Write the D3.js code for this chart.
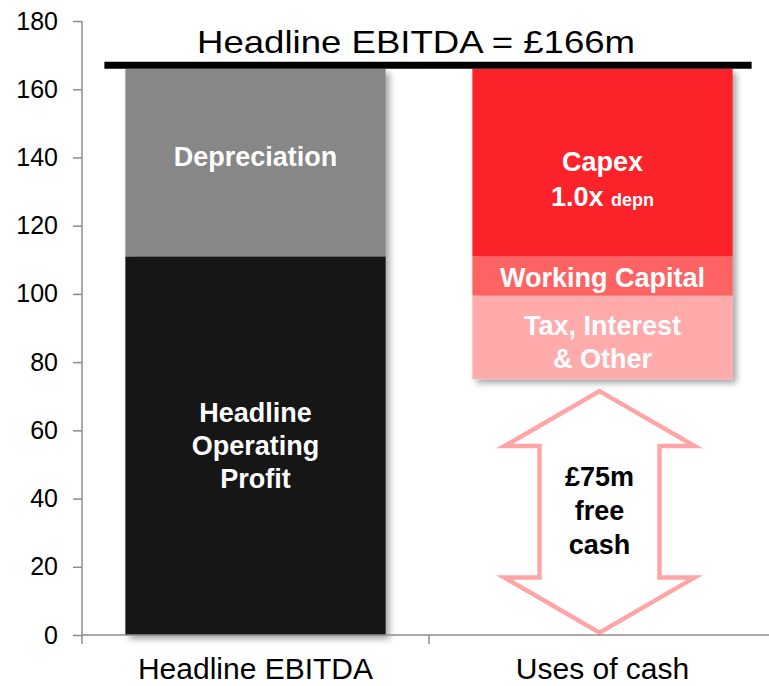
<html>
<head>
<script src="https://d3js.org/d3.v7.min.js"></script>
<style>
  body { margin: 0; background: #fff; }
  svg { font-family: Arial, "Liberation Sans", sans-serif; }
  .axis path, .axis line { stroke: #8c8c8c; stroke-width: 1.5; }
  .axis text { font-size: 25px; fill: #000; }
  .seg-label { font-weight: bold; font-size: 27px; fill: #fff; }
</style>
</head>
<body>
<div id="chart"></div>
<script>
// data
var categories = ["Headline EBITDA", "Uses of cash"];
var ebitdaParts = ["Headline Operating Profit", "Depreciation"];
var ebitdaValues = [111, 55];
var usesParts = ["Free cash", "Tax, Interest & Other", "Working Capital", "Capex"];
var usesValues = [75, 24.5, 11.5, 55];
var yTicks = [0, 20, 40, 60, 80, 100, 120, 140, 160, 180];
var headlineTotal = 166;
var titleText = "Headline EBITDA = £166m";
var freeCashText = ["£75m", "free", "cash"];

var width = 769, height = 686;
var margin = {top: 21, right: -7, bottom: 51, left: 82};

var colors = {
  "Headline Operating Profit": "#161616",
  "Depreciation": "#878787",
  "Capex": "#fc2229",
  "Working Capital": "#fe6464",
  "Tax, Interest & Other": "#ffabab"
};
var labelLines = {
  "Headline Operating Profit": ["Headline", "Operating", "Profit"],
  "Depreciation": ["Depreciation"],
  "Working Capital": ["Working Capital"],
  "Tax, Interest & Other": ["Tax, Interest", "& Other"]
};

var svg = d3.select("#chart").append("svg")
  .attr("width", width).attr("height", height);

var defs = svg.append("defs");
var f = defs.append("filter").attr("id", "shadow")
  .attr("x", "-5%").attr("y", "-5%").attr("width", "115%").attr("height", "115%");
f.append("feDropShadow").attr("dx", 4).attr("dy", 4)
  .attr("stdDeviation", 3).attr("flood-color", "#000").attr("flood-opacity", 0.35);

var g = svg.append("g").attr("transform", `translate(${margin.left},${margin.top})`);
var iw = width - margin.left - margin.right;
var ih = height - margin.top - margin.bottom;

var x = d3.scaleBand().domain(categories).range([0, iw]).paddingInner(0.25).paddingOuter(0.125);
var y = d3.scaleLinear().domain([0, 180]).range([ih, 0]);

// stack segments
function stackUp(parts, values) {
  var acc = 0;
  return parts.map(function(p, i) {
    var s = {name: p, y0: acc, y1: acc + values[i]};
    acc += values[i];
    return s;
  });
}
var stacks = [
  {cat: categories[0], segs: stackUp(ebitdaParts, ebitdaValues)},
  {cat: categories[1], segs: stackUp(usesParts, usesValues)}
];

// bars (with shadow on the visible block)
stacks.forEach(function(st) {
  var visible = st.segs.filter(d => colors[d.name]);
  var bg = g.append("g").attr("filter", "url(#shadow)");
  bg.selectAll("rect").data(visible).enter().append("rect")
    .attr("x", x(st.cat))
    .attr("width", x.bandwidth())
    .attr("y", d => y(d.y1))
    .attr("height", d => y(d.y0) - y(d.y1))
    .attr("fill", d => colors[d.name]);
});

// segment labels
var lh = 33;
stacks.forEach(function(st) {
  st.segs.filter(d => labelLines[d.name]).forEach(function(d) {
    var lines = labelLines[d.name];
    var cy = (y(d.y0) + y(d.y1)) / 2;
    if (d.name === "Depreciation") cy -= 6;
    if (d.name === "Tax, Interest & Other") cy += 5;
    if (d.name === "Working Capital") cy += 2;
    var t = g.append("text").attr("class", "seg-label")
      .attr("text-anchor", "middle")
      .attr("x", x(st.cat) + x.bandwidth() / 2)
      .attr("y", cy - (lines.length - 1) * lh / 2 + 9);
    lines.forEach(function(l, i) {
      t.append("tspan").attr("x", x(st.cat) + x.bandwidth() / 2)
        .attr("dy", i === 0 ? 0 : lh).text(l);
    });
  });
});

// capex label
var capex = stacks[1].segs.find(d => d.name === "Capex");
var cx2 = x(categories[1]) + x.bandwidth() / 2;
var ct = g.append("text").attr("class", "seg-label").attr("text-anchor", "middle")
  .attr("x", cx2).attr("y", (y(capex.y0) + y(capex.y1)) / 2 + 8);
ct.append("tspan").attr("x", cx2).text("Capex");
var l2 = ct.append("tspan").attr("x", cx2).attr("dy", 35);
l2.append("tspan").text("1.0x ");
l2.append("tspan").style("font-size", "18px").text("depn");

// free cash arrow
var fc = stacks[1].segs.find(d => d.name === "Free cash");
var ax = cx2 - 3;
var arrowTop = y(fc.y1 - 3.5), arrowBot = y(fc.y0 + 0.7);
var head = 55, hw = 95, sw = 60;
var arrow = d3.path();
arrow.moveTo(ax, arrowTop);
arrow.lineTo(ax + hw, arrowTop + head);
arrow.lineTo(ax + sw, arrowTop + head);
arrow.lineTo(ax + sw, arrowBot - head);
arrow.lineTo(ax + hw, arrowBot - head);
arrow.lineTo(ax, arrowBot);
arrow.lineTo(ax - hw, arrowBot - head);
arrow.lineTo(ax - sw, arrowBot - head);
arrow.lineTo(ax - sw, arrowTop + head);
arrow.lineTo(ax - hw, arrowTop + head);
arrow.closePath();
g.append("path").attr("d", arrow.toString())
  .attr("fill", "#fff").attr("stroke", "#ffa5a5").attr("stroke-width", 4.5)
  .attr("stroke-linejoin", "miter");
var ft = g.append("text").attr("text-anchor", "middle")
  .style("font-weight", "bold").style("font-size", "27px").attr("fill", "#000")
  .attr("x", ax).attr("y", (arrowTop + arrowBot) / 2 - 26);
freeCashText.forEach(function(l, i) {
  ft.append("tspan").attr("x", ax).attr("dy", i === 0 ? 0 : 34).text(l);
});

// y axis
var yAxis = g.append("g").attr("class", "axis")
  .call(d3.axisLeft(y).tickValues(yTicks).tickSize(9).tickPadding(15).tickSizeOuter(0));
yAxis.select(".domain").attr("d", `M0,${y(180)}V${ih}`);

// x axis
var xAxis = g.append("g").attr("class", "axis").attr("transform", `translate(0,${ih})`);
xAxis.append("line").attr("x1", 0).attr("x2", iw).attr("y1", 0).attr("y2", 0);
d3.range(categories.length + 1).forEach(function(i) {
  var bx = i * x.step();
  xAxis.append("line").attr("x1", bx).attr("x2", bx).attr("y1", 0).attr("y2", 9);
});
xAxis.selectAll("text.cat").data(categories).enter().append("text")
  .attr("class", "cat").attr("text-anchor", "middle")
  .style("font-size", "30px")
  .attr("x", d => x(d) + x.bandwidth() / 2)
  .attr("y", 44)
  .text(d => d);

// headline line and title
var lineY = y(headlineTotal) - 3.5;
g.append("line")
  .attr("x1", x(categories[0]) - 21)
  .attr("x2", x(categories[1]) + x.bandwidth() + 19)
  .attr("y1", lineY).attr("y2", lineY)
  .attr("stroke", "#000").attr("stroke-width", 7);
g.append("text").attr("text-anchor", "middle")
  .attr("transform", `translate(${416 - margin.left},${lineY - 12}) scale(1.18,1)`)
  .style("font-size", "31px")
  .text(titleText);
</script>
</body>
</html>
